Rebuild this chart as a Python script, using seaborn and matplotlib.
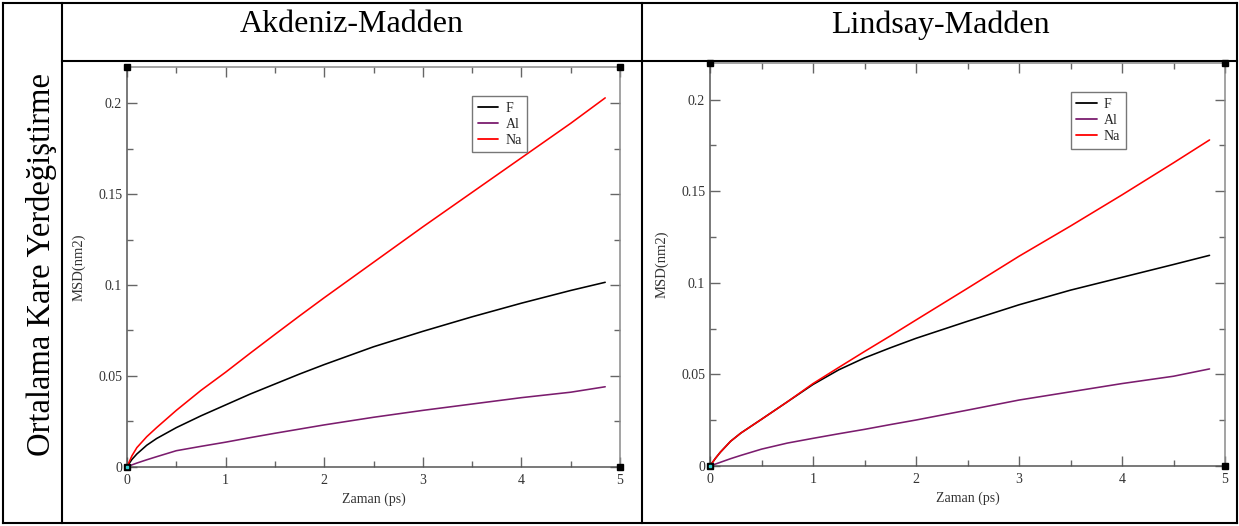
import numpy as np
import pandas as pd
import matplotlib
matplotlib.use("Agg")
import matplotlib.pyplot as plt
import seaborn as sns
from matplotlib.lines import Line2D
from matplotlib.ticker import FixedLocator, MultipleLocator

# ---------------- data ----------------
time_ps = [0, 0.05, 0.1, 0.2, 0.3, 0.5, 0.75, 1.0, 1.25, 1.5, 1.75, 2.0, 2.5, 3.0, 3.5, 4.0, 4.5, 4.85]

akdeniz_F = [0, 0.004, 0.007, 0.0118, 0.0155, 0.0215, 0.028, 0.034, 0.040, 0.0455, 0.051, 0.0562,
             0.066, 0.0745, 0.0825, 0.090, 0.097, 0.1015]
akdeniz_Al = [0, 0.001, 0.002, 0.0038, 0.0055, 0.0088, 0.0112, 0.0135, 0.016, 0.0184, 0.0207, 0.023,
              0.0272, 0.031, 0.0345, 0.038, 0.041, 0.044]
akdeniz_Na = [0, 0.006, 0.0105, 0.0165, 0.0215, 0.031, 0.042, 0.052, 0.0625, 0.0728, 0.083, 0.093,
              0.1125, 0.132, 0.151, 0.170, 0.189, 0.203]

lindsay_F = [0, 0.004, 0.0075, 0.0135, 0.018, 0.0255, 0.035, 0.0445, 0.0525, 0.059, 0.0645, 0.0697,
             0.079, 0.088, 0.096, 0.103, 0.110, 0.115]
lindsay_Al = [0, 0.001, 0.002, 0.004, 0.0058, 0.0092, 0.0125, 0.0151, 0.0176, 0.020, 0.0226, 0.0251,
              0.0305, 0.036, 0.0405, 0.045, 0.049, 0.053]
lindsay_Na = [0, 0.004, 0.0075, 0.0135, 0.018, 0.0255, 0.035, 0.045, 0.0538, 0.0625, 0.071, 0.0797,
              0.097, 0.1145, 0.131, 0.148, 0.1655, 0.178]

atoms = ["F", "Al", "Na"]
panel_titles = ["Akdeniz-Madden", "Lindsay-Madden"]
row_label = "Ortalama Kare Yerdeğiştirme"
x_label = "Zaman (ps)"
y_label = "MSD(nm2)"
x_ticks = [0, 1, 2, 3, 4, 5]
x_tick_labels = ["0", "1", "2", "3", "4", "5"]
y_ticks = [0, 0.05, 0.1, 0.15, 0.2]
y_tick_labels = ["0", "0.05", "0.1", "0.15", "0.2"]

palette = {"F": "#000000", "Al": "#7b1c6e", "Na": "#ff0000"}

# ---------------- style ----------------
sns.set_theme(style="white")
plt.rcParams["font.family"] = ["Liberation Serif", "DejaVu Serif"]

W, H = 1239, 526
fig = plt.figure(figsize=(W / 100, H / 100), dpi=100)
fig.patch.set_facecolor("white")


def fx(x):
    return x / W


def fy(y):
    return 1 - y / H


def fline(x0, y0, x1, y1, lw=1.5):
    fig.add_artist(Line2D([fx(x0), fx(x1)], [fy(y0), fy(y1)],
                          transform=fig.transFigure, color="black", lw=lw,
                          solid_capstyle="projecting"))


# table grid
fline(3, 3, 1237, 3)
fline(3, 523, 1237, 523)
fline(3, 3, 3, 523)
fline(1237, 3, 1237, 523)
fline(62, 3, 62, 523)
fline(642, 3, 642, 523)
fline(62, 61, 1237, 61)

# titles
fig.text(fx(352), fy(32.5), panel_titles[0], ha="center", va="baseline", fontsize=23, color="black")
fig.text(fx(940), fy(32.5), panel_titles[1], ha="center", va="baseline", fontsize=23, color="black")
fig.text(fx(42), fy(265), row_label, ha="center", va="center", rotation=90, fontsize=23.5, color="black")

series = [
    (akdeniz_F, akdeniz_Al, akdeniz_Na),
    (lindsay_F, lindsay_Al, lindsay_Na),
]
axes_px = [
    (127, 466.7, 493, 399.7),
    (710, 466.0, 515, 403.0),
]

for (F, Al, Na), (x0, yb, w, h) in zip(series, axes_px):
    ax = fig.add_axes([fx(x0), fy(yb), w / W, h / H])
    ax.set_facecolor("white")
    df = pd.DataFrame({
        "t": np.tile(time_ps, 3),
        "msd": np.concatenate([F, Al, Na]),
        "atom": np.repeat(atoms, len(time_ps)),
    })
    sns.lineplot(data=df, x="t", y="msd", hue="atom", hue_order=atoms,
                 palette=palette, estimator=None, sort=False, linewidth=1.15, ax=ax)
    ax.set_xlim(0, 5)
    ax.set_ylim(0, 0.22)
    ax.xaxis.set_major_locator(FixedLocator(x_ticks))
    ax.set_xticklabels(x_tick_labels)
    ax.xaxis.set_minor_locator(MultipleLocator(0.5))
    ax.yaxis.set_major_locator(FixedLocator(y_ticks))
    ax.set_yticklabels(y_tick_labels)
    ax.yaxis.set_minor_locator(MultipleLocator(0.025))

    for side in ["left", "bottom"]:
        ax.spines[side].set_color("#555555")
        ax.spines[side].set_linewidth(1.1)
    for side in ["top", "right"]:
        ax.spines[side].set_color("#8a8a8a")
        ax.spines[side].set_linewidth(1.1)

    ax.tick_params(which="major", direction="in", length=7.5, width=1.0,
                   color="#666666", top=True, right=True, left=True, bottom=True,
                   labelsize=10, labelcolor="#333333")
    ax.tick_params(which="minor", direction="in", length=4.5, width=1.0,
                   color="#666666", top=True, right=True, left=True, bottom=True)
    ax.tick_params(axis="y", which="major", pad=3.5)
    ax.tick_params(axis="x", which="major", pad=5)

    ax.set_xlabel(x_label, fontsize=10, color="#333333", labelpad=4)
    ax.set_ylabel(y_label, fontsize=10.5, color="#333333", labelpad=9)

    sns.move_legend(ax, "upper left", bbox_to_anchor=(0.70, 0.927), title=None,
                    frameon=True, fontsize=10, handlelength=1.5, handletextpad=0.5,
                    labelspacing=0.22, borderpad=0.4, borderaxespad=0,
                    fancybox=False, edgecolor="#777777", framealpha=1)
    leg = ax.get_legend()
    leg.get_frame().set_linewidth(1.0)
    for line in leg.get_lines():
        line.set_linewidth(1.3)

    # xmgrace-style corner handles
    ax.plot([0, 1, 0, 1], [0, 0, 1, 1], transform=ax.transAxes, ls="none",
            marker="s", ms=4.5, mfc="black", mec="black", clip_on=False, zorder=6)
    ax.plot([0], [0], transform=ax.transAxes, ls="none", marker="s", ms=1.6,
            mfc="#33cccc", mec="#33cccc", clip_on=False, zorder=7)

fig.savefig("out.png", dpi=100, facecolor="white")
